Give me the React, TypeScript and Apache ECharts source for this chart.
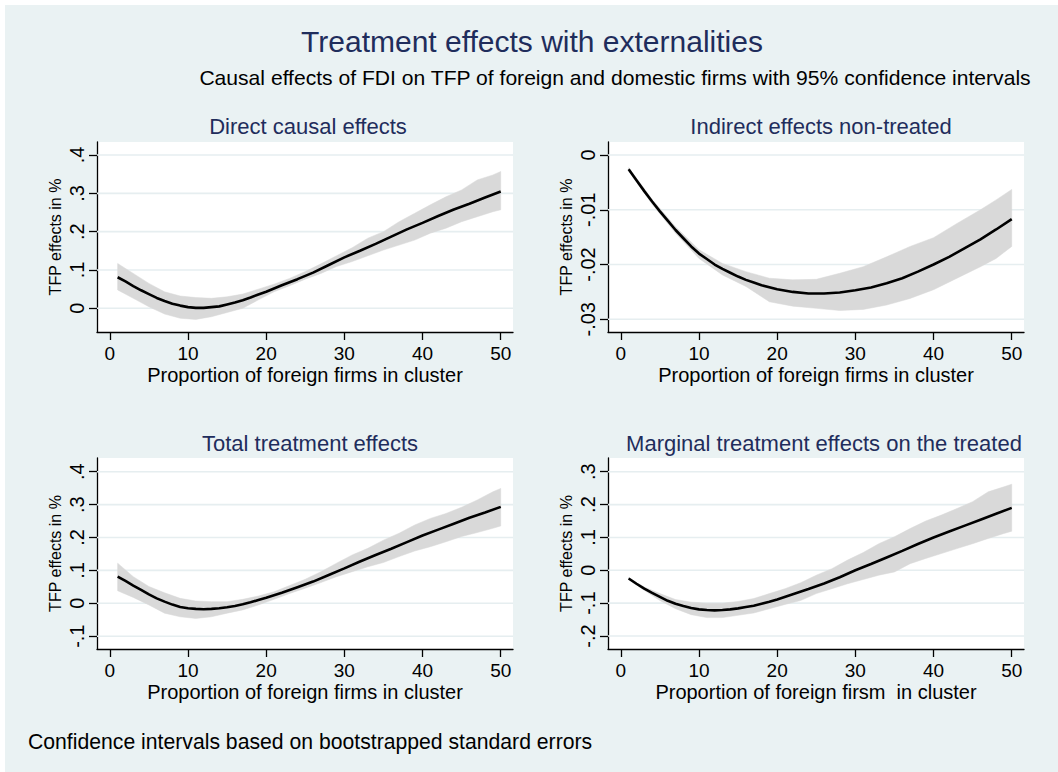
import React, { useEffect, useRef } from 'react';
import * as echarts from 'echarts';

const FONT = '"Liberation Sans", Arial, sans-serif';

const xTicks = [0, 10, 20, 30, 40, 50];
const X_MIN = -1.64;
const X_MAX = 51.57;

// common x positions
const meanX = [1, 2, 3, 4, 5, 6, 7, 8, 9, 10, 11, 12, 13, 14, 15, 16, 17, 18, 19, 20, 22, 24, 26, 28, 30, 32, 34, 36, 38, 40, 42, 44, 46, 48, 50];
const bandX = [1, 3, 5, 7, 9, 11, 13, 15, 17, 19, 21, 23, 25, 27, 29, 31, 33, 35, 37, 39, 41, 43, 45, 47, 49, 50];

// Panel 1: Direct causal effects
const directMean = [0.081, 0.070, 0.058, 0.047, 0.037, 0.027, 0.019, 0.012, 0.007, 0.003, 0.001, 0.001, 0.003, 0.005, 0.010, 0.015, 0.021, 0.028, 0.036, 0.043, 0.060, 0.076, 0.093, 0.113, 0.133, 0.150, 0.168, 0.187, 0.206, 0.223, 0.241, 0.258, 0.273, 0.289, 0.305];
const directUpper = [0.117, 0.091, 0.065, 0.043, 0.032, 0.028, 0.026, 0.030, 0.037, 0.050, 0.063, 0.078, 0.096, 0.116, 0.137, 0.158, 0.183, 0.200, 0.226, 0.248, 0.270, 0.291, 0.309, 0.335, 0.348, 0.357];
const directLower = [0.048, 0.026, 0.004, -0.015, -0.026, -0.029, -0.022, -0.011, 0.000, 0.022, 0.043, 0.059, 0.076, 0.091, 0.109, 0.122, 0.137, 0.152, 0.165, 0.178, 0.196, 0.209, 0.226, 0.239, 0.252, 0.257];
const directYTicks = [0, 0.1, 0.2, 0.3, 0.4];

// Panel 2: Indirect effects non-treated
const indirectX = [1, 2, 3, 4, 5, 6, 7, 8, 9, 10, 11, 12, 13, 14, 15, 16, 17, 18, 20, 22, 24, 26, 28, 30, 32, 34, 36, 38, 40, 42, 44, 46, 48, 50];
const indirectMean = [-0.0026, -0.0046, -0.0066, -0.0085, -0.0103, -0.0120, -0.0137, -0.0152, -0.0167, -0.0180, -0.0190, -0.0200, -0.0208, -0.0215, -0.0222, -0.0228, -0.0233, -0.0238, -0.0245, -0.0250, -0.0253, -0.0253, -0.0251, -0.0247, -0.0242, -0.0234, -0.0225, -0.0213, -0.0200, -0.0186, -0.0170, -0.0154, -0.0136, -0.0117];
const indirectBandX = [1, 4, 7, 10, 13, 16, 19, 22, 25, 28, 31, 34, 37, 40, 43, 46, 48, 50];
const indirectUpper = [-0.0023, -0.0081, -0.0131, -0.0173, -0.0198, -0.0213, -0.0225, -0.0228, -0.0227, -0.0216, -0.0204, -0.0186, -0.0167, -0.0151, -0.0125, -0.0100, -0.0082, -0.0063];
const indirectLower = [-0.0029, -0.0090, -0.0143, -0.0189, -0.0219, -0.0240, -0.0268, -0.0276, -0.0280, -0.0284, -0.0282, -0.0274, -0.0262, -0.0246, -0.0225, -0.0204, -0.0189, -0.0167];
const indirectYTicks = [-0.03, -0.02, -0.01, 0];

// Panel 3: Total treatment effects
const totalMean = [0.081, 0.068, 0.054, 0.041, 0.027, 0.015, 0.005, -0.004, -0.011, -0.015, -0.017, -0.018, -0.017, -0.015, -0.012, -0.008, -0.003, 0.003, 0.010, 0.017, 0.032, 0.049, 0.066, 0.086, 0.106, 0.127, 0.147, 0.166, 0.186, 0.206, 0.224, 0.242, 0.260, 0.276, 0.293];
const totalUpper = [0.122, 0.081, 0.051, 0.032, 0.015, 0.007, 0.005, 0.005, 0.012, 0.022, 0.035, 0.054, 0.073, 0.096, 0.122, 0.147, 0.167, 0.192, 0.213, 0.238, 0.258, 0.273, 0.292, 0.314, 0.339, 0.349];
const totalLower = [0.038, 0.018, -0.005, -0.030, -0.041, -0.046, -0.041, -0.030, -0.020, -0.005, 0.012, 0.030, 0.046, 0.063, 0.081, 0.096, 0.111, 0.124, 0.142, 0.159, 0.172, 0.187, 0.203, 0.215, 0.228, 0.235];
const totalYTicks = [-0.1, 0, 0.1, 0.2, 0.3, 0.4];

// Panel 4: Marginal treatment effects on the treated
const marginalMean = [-0.025, -0.041, -0.056, -0.069, -0.081, -0.093, -0.102, -0.109, -0.115, -0.119, -0.121, -0.122, -0.121, -0.119, -0.116, -0.112, -0.108, -0.102, -0.096, -0.089, -0.073, -0.057, -0.040, -0.021, 0.000, 0.019, 0.039, 0.059, 0.080, 0.100, 0.118, 0.136, 0.154, 0.172, 0.190];
const marginalUpper = [-0.022, -0.051, -0.071, -0.089, -0.097, -0.100, -0.100, -0.095, -0.086, -0.071, -0.056, -0.038, -0.015, 0.005, 0.031, 0.054, 0.081, 0.102, 0.127, 0.150, 0.168, 0.188, 0.209, 0.239, 0.254, 0.262];
const marginalLower = [-0.028, -0.061, -0.092, -0.117, -0.135, -0.144, -0.144, -0.137, -0.130, -0.117, -0.104, -0.092, -0.071, -0.056, -0.041, -0.028, -0.015, -0.005, 0.020, 0.036, 0.051, 0.066, 0.081, 0.097, 0.112, 0.119];
const marginalYTicks = [-0.2, -0.1, 0, 0.1, 0.2, 0.3];

const mainTitle = 'Treatment effects with externalities';
const subTitle = 'Causal effects of FDI on TFP of foreign and domestic firms with 95% confidence intervals';
const footNote = 'Confidence intervals based on bootstrapped standard errors';
const yName = 'TFP effects in %';

const panels = [
  {
    title: 'Direct causal effects', xName: 'Proportion of foreign firms in cluster',
    mx: meanX, mean: directMean, bx: bandX, upper: directUpper, lower: directLower,
    yTicks: directYTicks, yMin: -0.0619, yMax: 0.434,
    grid: { left: 97, top: 142, width: 416, height: 190 }, tx: 308, ty: 126,
  },
  {
    title: 'Indirect effects non-treated', xName: 'Proportion of foreign firms in cluster',
    mx: indirectX, mean: indirectMean, bx: indirectBandX, upper: indirectUpper, lower: indirectLower,
    yTicks: indirectYTicks, yMin: -0.03232, yMax: 0.00237,
    grid: { left: 608, top: 142, width: 416, height: 190 }, tx: 821, ty: 126,
  },
  {
    title: 'Total treatment effects', xName: 'Proportion of foreign firms in cluster',
    mx: meanX, mean: totalMean, bx: bandX, upper: totalUpper, lower: totalLower,
    yTicks: totalYTicks, yMin: -0.1389, yMax: 0.4416,
    grid: { left: 97, top: 458, width: 416, height: 191 }, tx: 310, ty: 443,
  },
  {
    title: 'Marginal treatment effects on the treated', xName: 'Proportion of foreign firsm  in cluster',
    mx: meanX, mean: marginalMean, bx: bandX, upper: marginalUpper, lower: marginalLower,
    yTicks: marginalYTicks, yMin: -0.2396, yMax: 0.3418,
    grid: { left: 608, top: 458, width: 416, height: 191 }, tx: 824, ty: 443,
  },
];

const fmt = (v: number) => {
  if (Math.abs(v) < 1e-9) return '0';
  const s = String(Math.round(v * 1000) / 1000);
  return s.replace('0.', '.');
};

const TITLE_COLOR = '#1f2d5c';

function textEl(text: string, x: number, y: number, size: number, color: string, align: string) {
  return {
    type: 'text',
    x,
    y,
    silent: true,
    style: {
      text,
      fontSize: size,
      fontFamily: FONT,
      fill: color,
      align,
      textAlign: align,
      verticalAlign: 'middle',
      textVerticalAlign: 'middle',
    },
  };
}

export default function App() {
  const ref = useRef<HTMLDivElement>(null);
  useEffect(() => {
    if (!ref.current) return;
    const chart = echarts.init(ref.current, undefined, { renderer: 'svg' });
    const axisLineStyle = { color: '#000', width: 1.3 };
    const option: any = {
      animation: false,
      backgroundColor: 'transparent',
      textStyle: { fontFamily: FONT },
      grid: panels.map((p) => ({ ...p.grid, show: true, backgroundColor: '#ffffff', borderWidth: 0, containLabel: false })),
      xAxis: panels.map((p, i) => ({
        type: 'value', gridIndex: i, min: X_MIN, max: X_MAX,
        name: p.xName, nameLocation: 'middle', nameGap: 33,
        nameTextStyle: { fontSize: 20, color: '#000', fontFamily: FONT },
        axisLine: { show: true, onZero: false, lineStyle: axisLineStyle },
        axisTick: { show: true, length: 8, customValues: xTicks, lineStyle: axisLineStyle },
        axisLabel: { customValues: xTicks, fontSize: 19, color: '#000', margin: 12, fontFamily: FONT },
        splitLine: { show: false },
      })),
      yAxis: panels.map((p, i) => ({
        type: 'value', gridIndex: i, min: p.yMin, max: p.yMax,
        name: yName, nameLocation: 'middle', nameGap: 34,
        nameTextStyle: { fontSize: 16, color: '#000', fontFamily: FONT },
        axisLine: { show: true, onZero: false, lineStyle: axisLineStyle },
        axisTick: { show: true, length: 8, customValues: p.yTicks, lineStyle: axisLineStyle },
        axisLabel: { customValues: p.yTicks, rotate: 90, fontSize: 20, color: '#000', margin: 10, fontFamily: FONT, formatter: (v: number) => fmt(v) },
        splitLine: { show: false },
      })),
      series: panels.flatMap((p, i) => [
        {
          type: 'custom', xAxisIndex: i, yAxisIndex: i, silent: true, z: 1,
          data: [[p.bx[0], p.lower[0]]],
          renderItem: (_params: any, api: any) => {
            const children: any[] = [];
            p.yTicks.forEach((v) => {
              const a = api.coord([X_MIN, v]);
              const b = api.coord([X_MAX, v]);
              children.push({ type: 'line', shape: { x1: a[0], y1: a[1], x2: b[0], y2: b[1] }, style: { stroke: '#e6eef0', lineWidth: 1.6 } });
            });
            const pts: number[][] = [];
            p.bx.forEach((x, k) => pts.push(api.coord([x, p.upper[k]])));
            for (let k = p.bx.length - 1; k >= 0; k--) pts.push(api.coord([p.bx[k], p.lower[k]]));
            children.push({ type: 'polygon', shape: { points: pts }, style: { fill: '#d9d9d9', stroke: '#d9d9d9', lineWidth: 0.5 } });
            return { type: 'group', children };
          },
        },
        {
          type: 'line', xAxisIndex: i, yAxisIndex: i, z: 3, silent: true,
          showSymbol: false, symbol: 'none', smooth: false,
          data: p.mx.map((x, k) => [x, p.mean[k]]),
          lineStyle: { color: '#000000', width: 2.6 },
        },
      ]),
      graphic: [
        textEl(mainTitle, 532, 41, 30, TITLE_COLOR, 'center'),
        textEl(subTitle, 615, 77, 21.1, '#000', 'center'),
        ...panels.map((p) => textEl(p.title, p.tx, p.ty, 22, TITLE_COLOR, 'center')),
        textEl(footNote, 28, 741, 21.2, '#000', 'left'),
      ],
    };
    chart.setOption(option);
    return () => chart.dispose();
  }, []);

  return (
    <div style={{ position: 'fixed', left: 0, top: 0, width: 1058, height: 772, background: '#ffffff' }}>
      <div style={{ position: 'absolute', left: 5, top: 5, right: 0, bottom: 0, background: '#eaf2f3' }} />
      <div ref={ref} style={{ position: 'absolute', left: 0, top: 0, width: 1058, height: 772 }} />
    </div>
  );
}
